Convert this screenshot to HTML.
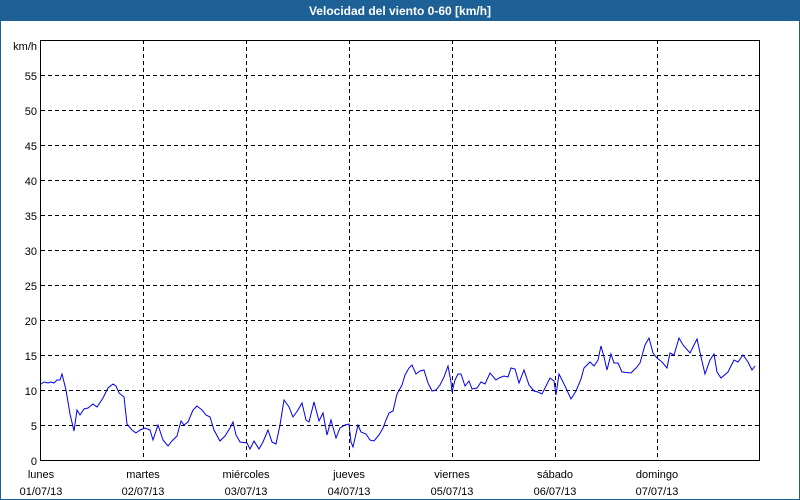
<!DOCTYPE html>
<html><head><meta charset="utf-8"><style>
body{margin:0;width:800px;height:500px;overflow:hidden;background:#fff}
svg{display:block;font-family:"Liberation Sans",sans-serif}
</style></head><body>
<svg width="800" height="500" xmlns="http://www.w3.org/2000/svg">
<rect x="0" y="0" width="800" height="500" fill="#1d6096"/>
<rect x="1" y="21" width="798" height="478" fill="#fff"/>
<text x="400" y="15" fill="#fff" font-size="12" font-weight="bold" text-anchor="middle">Velocidad del viento 0-60 [km/h]</text>
<g stroke="#000" stroke-width="1" stroke-dasharray="4,3" shape-rendering="crispEdges">
<line x1="41" x2="760" y1="425.5" y2="425.5"/><line x1="41" x2="760" y1="390.5" y2="390.5"/>
<line x1="41" x2="760" y1="355.5" y2="355.5"/><line x1="41" x2="760" y1="320.5" y2="320.5"/>
<line x1="41" x2="760" y1="285.5" y2="285.5"/><line x1="41" x2="760" y1="250.5" y2="250.5"/>
<line x1="41" x2="760" y1="215.5" y2="215.5"/><line x1="41" x2="760" y1="180.5" y2="180.5"/>
<line x1="41" x2="760" y1="145.5" y2="145.5"/><line x1="41" x2="760" y1="110.5" y2="110.5"/>
<line x1="41" x2="760" y1="75.5" y2="75.5"/>
<line y1="40" y2="460" x1="143.5" x2="143.5"/><line y1="40" y2="460" x1="246.5" x2="246.5"/>
<line y1="40" y2="460" x1="349.5" x2="349.5"/><line y1="40" y2="460" x1="452.5" x2="452.5"/>
<line y1="40" y2="460" x1="555.5" x2="555.5"/><line y1="40" y2="460" x1="657.5" x2="657.5"/>
</g>
<rect x="40.5" y="40.5" width="719" height="420" fill="none" stroke="#000" stroke-width="1" shape-rendering="crispEdges"/>
<g font-size="11" fill="#000" text-anchor="end">
<text x="37" y="50">km/h</text>
<text x="37" y="80">55</text><text x="37" y="115">50</text><text x="37" y="150">45</text>
<text x="37" y="185">40</text><text x="37" y="220">35</text><text x="37" y="255">30</text>
<text x="37" y="290">25</text><text x="37" y="325">20</text><text x="37" y="360">15</text>
<text x="37" y="395">10</text><text x="37" y="430">5</text><text x="37" y="465">0</text>
</g>
<g font-size="11" fill="#000" text-anchor="middle">
<text x="41" y="478">lunes</text><text x="41" y="495">01/07/13</text>
<text x="143" y="478">martes</text><text x="143" y="495">02/07/13</text>
<text x="246" y="478">miércoles</text><text x="246" y="495">03/07/13</text>
<text x="349" y="478">jueves</text><text x="349" y="495">04/07/13</text>
<text x="452" y="478">viernes</text><text x="452" y="495">05/07/13</text>
<text x="555" y="478">sábado</text><text x="555" y="495">06/07/13</text>
<text x="657" y="478">domingo</text><text x="657" y="495">07/07/13</text>
</g>
<polyline fill="none" stroke="#0000ee" stroke-width="1" points="41,384 44,382 48,383 51,382 54,383 57,380 60,380 62,374 66,390 70,414 74,431 77,410 80,415 84,409 88,408 93,404 97,407 103,398 108,388 113,384 116,386 119,393 124,397 127,424 132,430 136,433 140,430 145,428 150,430 153,440 158,425 163,440 168,446 172,441 177,436 181,421 184,425 188,422 193,410 197,406 202,410 206,415 210,417 214,430 220,441 225,436 230,428 233,422 236,435 240,442 247,443 250,449 254,441 259,449 263,442 268,430 272,442 276,444 280,425 284,400 289,407 293,417 298,410 302,403 306,420 309,422 314,402 319,421 323,413 327,435 331,420 336,438 340,428 345,425 349,424 351,442 353,447 358,425 361,432 366,434 370,440 374,441 379,435 383,428 386,420 389,413 393,411 397,394 402,385 405,375 409,368 412,365 416,374 420,371 424,370 428,383 432,391 436,390 440,385 444,377 448,366 451,382 452,392 455,380 458,374 461,374 465,386 469,381 472,389 477,388 481,382 485,384 490,373 496,380 499,378 504,376 508,377 511,368 515,369 519,383 524,370 529,385 534,391 538,392 542,394 546,386 550,378 554,381 556,395 559,374 565,386 571,399 576,391 581,379 584,368 590,362 594,366 598,360 601,346 604,357 607,370 611,354 614,363 618,363 622,372 631,373 636,368 640,363 645,345 649,338 653,353 657,358 662,362 667,368 670,353 674,355 679,338 683,345 690,353 697,339 701,357 705,374 710,360 714,354 717,372 721,378 728,372 734,360 738,362 743,355 748,362 752,370 755,366"/>
</svg>
</body></html>
